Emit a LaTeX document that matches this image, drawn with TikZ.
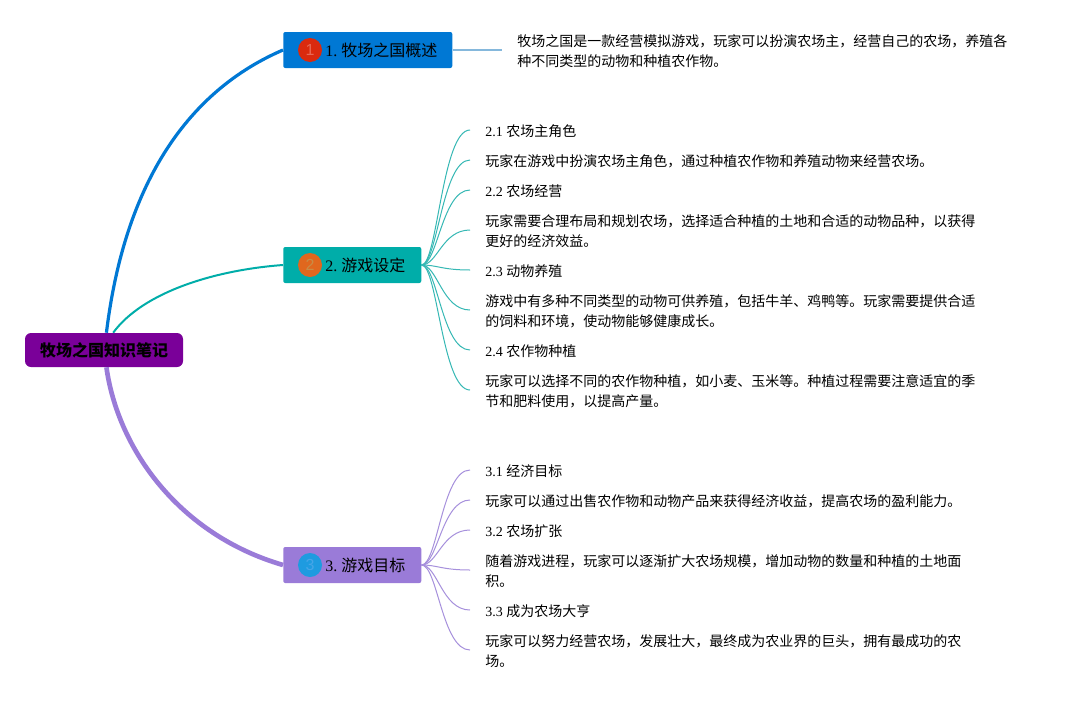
\documentclass[tikz,border=0pt]{standalone}
\usepackage{fontspec}
\usetikzlibrary{calc}
\setmainfont{Liberation Serif}
\newfontfamily\cjk{Noto Sans CJK SC}
\newfontfamily\digitfont{Liberation Sans}
\definecolor{rootc}{HTML}{7A0099}
\definecolor{bluec}{HTML}{0078D4}
\definecolor{tealc}{HTML}{00ADA9}
\definecolor{purpc}{HTML}{9A7BD8}
\definecolor{lineb}{HTML}{85B8DC}
\definecolor{teall}{HTML}{35B8B4}
\definecolor{purpl}{HTML}{A690DC}
\tikzset{
  x=0.75pt,y=-0.75pt,
  rootbox/.style={fill=rootc,rounded corners=4.5pt,minimum width=118.5pt,minimum height=25.5pt,inner sep=0pt,anchor=center,font=\fontsize{12}{15}\selectfont\cjk\bfseries,text=black},
  headbox/.style={rounded corners=1.5pt,minimum height=27pt,inner xsep=0pt,inner ysep=0pt,anchor=west,align=left,font=\fontsize{12}{15}\selectfont\frenchspacing,text=black},
  badge/.style={circle,minimum size=18pt,inner sep=0pt,font=\fontsize{12}{14}\selectfont\digitfont},
  txt/.style={anchor=west,inner xsep=11.25pt,inner ysep=0pt,align=left,font=\fontsize{10.5}{15}\selectfont,text=black},
  kid/.style={line width=0.75pt},
}
\begin{document}
\begin{tikzpicture}
\useasboundingbox (0,0) rectangle (1077,700);
\fill[white] (0,0) rectangle (1077,700);
% boxes
\node[rootbox] (root) at (104,350) {牧场之国知识笔记};
\node[headbox,fill=bluec,text width=126.75pt] (n1) at (283,50) {\hspace*{31.5pt}1.\hspace{3pt}{\cjk 牧场之国概述}};
\node[headbox,fill=tealc,text width=103.5pt] (n2) at (283,265) {\hspace*{31.5pt}2.\hspace{3pt}{\cjk 游戏设定}};
\node[headbox,fill=purpc,text width=103.5pt] (n3) at (283,565) {\hspace*{31.5pt}3.\hspace{3pt}{\cjk 游戏目标}};
\node[badge,fill={rgb,255:red,218;green,42;blue,14},text={rgb,255:red,232;green,105;blue,85}] (b1) at (310,50) {1};
\node[badge,fill={rgb,255:red,224;green,103;blue,30},text={rgb,255:red,200;green,140;blue,70}] (b2) at (310,265) {2};
\node[badge,fill={rgb,255:red,30;green,155;blue,224},text={rgb,255:red,70;green,165;blue,232}] (b3) at (310,565) {3};
% texts
\node[txt,anchor=west] (t1) at (502,51) {\cjk 牧场之国是一款经营模拟游戏，玩家可以扮演农场主，经营自己的农场，养殖各\\\cjk 种不同类型的动物和种植农作物。};
\node[txt] (a1) at (470,131.5) {2.1 {\cjk 农场主角色}};
\node[txt] (a2) at (470,161.5) {\cjk 玩家在游戏中扮演农场主角色，通过种植农作物和养殖动物来经营农场。};
\node[txt] (a3) at (470,191.5) {2.2 {\cjk 农场经营}};
\node[txt] (a4) at (470,231.5) {\cjk 玩家需要合理布局和规划农场，选择适合种植的土地和合适的动物品种，以获得\\\cjk 更好的经济效益。};
\node[txt] (a5) at (470,271.5) {2.3 {\cjk 动物养殖}};
\node[txt] (a6) at (470,311.5) {\cjk 游戏中有多种不同类型的动物可供养殖，包括牛羊、鸡鸭等。玩家需要提供合适\\\cjk 的饲料和环境，使动物能够健康成长。};
\node[txt] (a7) at (470,351.5) {2.4 {\cjk 农作物种植}};
\node[txt] (a8) at (470,391.5) {\cjk 玩家可以选择不同的农作物种植，如小麦、玉米等。种植过程需要注意适宜的季\\\cjk 节和肥料使用，以提高产量。};
\node[txt] (c1) at (470,471.5) {3.1 {\cjk 经济目标}};
\node[txt] (c2) at (470,501.5) {\cjk 玩家可以通过出售农作物和动物产品来获得经济收益，提高农场的盈利能力。};
\node[txt] (c3) at (470,531.5) {3.2 {\cjk 农场扩张}};
\node[txt] (c4) at (470,571.5) {\cjk 随着游戏进程，玩家可以逐渐扩大农场规模，增加动物的数量和种植的土地面\\\cjk 积。};
\node[txt] (c5) at (470,611.5) {3.3 {\cjk 成为农场大亨}};
\node[txt] (c6) at (470,651.5) {\cjk 玩家可以努力经营农场，发展壮大，最终成为农业界的巨头，拥有最成功的农\\\cjk 场。};
% main branches
\draw[bluec,line width=2.4pt] (root.82) .. controls (125,180) and (190,90) .. (n1.west);
\draw[tealc,line width=1.5pt] (root.62) .. controls (143,292) and (215,270) .. (n2.west);
\draw[purpc,line width=3.5pt] (root.-82) .. controls (118,450) and (180,535) .. (n3.west);
\draw[lineb,line width=1.1pt] (n1.east) -- ($(t1.west)+(0,-1)$);
% children
\foreach \k in {a1,a2,a3,a4,a5,a6,a7,a8}
  \draw[teall,kid] (n2.east) .. controls +(16,0) and +(-28,0) .. ($(\k.west)+(0,-1.5)$);
\foreach \k in {c1,c2,c3,c4,c5,c6}
  \draw[purpl,kid] (n3.east) .. controls +(16,0) and +(-28,0) .. ($(\k.west)+(0,-1.5)$);
\end{tikzpicture}
\end{document}
